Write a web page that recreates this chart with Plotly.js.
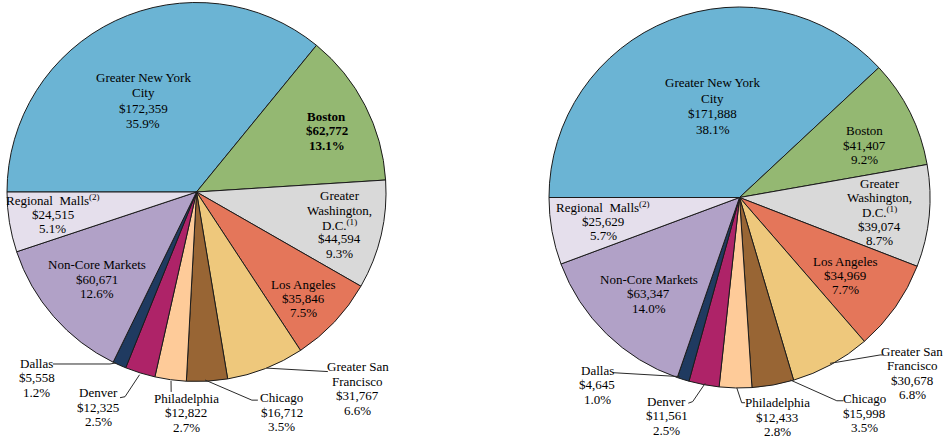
<!DOCTYPE html>
<html><head><meta charset="utf-8">
<script src="https://cdn.plot.ly/plotly-3.0.1.min.js"></script>
<style>html,body{margin:0;padding:0;background:#fff}#chart{width:944px;height:440px}</style>
</head><body><div id="chart"></div>
<script>
// ---- data ----
const categories = ['Greater New York City','Boston','Greater Washington, D.C.','Los Angeles','Greater San Francisco','Chicago','Philadelphia','Denver','Dallas','Non-Core Markets','Regional Malls'];
const nameLines = [['Greater New York','City'],['Boston'],['Greater','Washington,','D.C.<sup>(1)</sup>'],['Los Angeles'],['Greater San','Francisco'],['Chicago'],['Philadelphia'],['Denver'],['Dallas'],['Non-Core Markets'],['Regional  Malls<sup>(2)</sup>']];
const valuesLeft = [172359, 62772, 44594, 35846, 31767, 16712, 12822, 12325, 5558, 60671, 24515];
const pctLeft = ['35.9%','13.1%','9.3%','7.5%','6.6%','3.5%','2.7%','2.5%','1.2%','12.6%','5.1%'];
const valuesRight = [171888, 41407, 39074, 34969, 30678, 15998, 12433, 11561, 4645, 63347, 25629];
const pctRight = ['38.1%','9.2%','8.7%','7.7%','6.8%','3.5%','2.8%','2.5%','1.0%','14.0%','5.7%'];
const colors = ['#6bb4d4','#94b872','#d9d9d9','#e4765a','#eec87c','#986534','#fecb99','#ae2368','#1f3a60','#b1a1c7','#e5dfec'];

// ---- layout / styling ----
const W = 944, H = 440;
const FONT = '"Liberation Serif", "Times New Roman", serif';
const pies = [
  { values: valuesLeft, pct: pctLeft, cx: 196.5, cy: 192, r: 189.5, bold: [1],
    labelPos: [[-4.9,0.559],[2.1,0.760],[-0.3,0.776],[1.7,0.795],[-18.0,1.342],[-18.0,1.246],[-5.2,1.167],[7.3,1.248],[16.6,1.293],[0,0.698],[0.3,0.767]],
    leaders: {4:[-0.3,1.0,[[-30,-17]]], 5:[0.6,0.993,[[-30,-12],[-24,-12]]], 6:[-0.2,1.006,[[-15,-21]]],
              7:[0,1.01,[[27,-10.3],[22,-9.3]]], 8:[1.2,0.997,[[73,-14],[16,-14]]]} },
  { values: valuesRight, pct: pctRight, cx: 739.5, cy: 197.5, r: 190.5, bold: [],
    labelPos: [[5.3,0.500],[3.8,0.714],[0.3,0.741],[1.4,0.689],[-15.8,1.292],[-19.9,1.307],[-10.9,1.169],[7.6,1.208],[20.0,1.236],[-1.1,0.694],[0.4,0.727]],
    leaders: {4:[0.1,0.992,[[-32,-18],[-28.7,-18]]], 5:[-5.4,0.994,[[-27.3,-12.3],[-20.7,-12.3]]], 6:[-0.4,1.0,[[-35.3,-14.3],[-32,-14.3]]],
              7:[-0.3,0.992,[[25.7,-14.3],[21.3,-12.7]]], 8:[1.2,0.991,[[16,-12.3]]]} }
];

function midAngles(vals){
  const s = vals.reduce((a,b)=>a+b,0); let c = 0;
  return vals.map(v => { const m = c + v/2; c += v; return -90 + 360*m/s; });
}
function polar(p, deg, k){
  const a = deg*Math.PI/180;
  return [p.cx + k*p.r*Math.sin(a), p.cy - k*p.r*Math.cos(a)];
}
const px2x = x => x / W, px2y = y => 1 - y / H;

const traces = [], annotations = [], shapes = [];
pies.forEach(p => {
  traces.push({
    type: 'pie', values: p.values, labels: categories, sort: false, direction: 'clockwise', rotation: -90,
    marker: { colors: colors, line: { color: '#1b1b1b', width: 1 } },
    textinfo: 'none', showlegend: false, hoverinfo: 'label+value+percent',
    domain: { x: [px2x(p.cx - p.r), px2x(p.cx + p.r)], y: [px2y(p.cy + p.r), px2y(p.cy - p.r)] }
  });
  const mids = midAngles(p.values);
  categories.forEach((c, i) => {
    const [dθ, k] = p.labelPos[i];
    const [lx, ly] = polar(p, mids[i] + dθ, k);
    const lines = nameLines[i].concat(['$' + p.values[i].toLocaleString('en-US'), p.pct[i]]);
    const lh = i === 0 ? 15.6 : 14.4;
    lines.forEach((t, j) => {
      const y = ly + (j - (lines.length - 1)/2) * lh;
      annotations.push({ xref: 'paper', yref: 'paper', x: px2x(lx), y: px2y(y), xanchor: 'center', yanchor: 'middle',
        showarrow: false, text: p.bold.includes(i) ? '<b>' + t + '</b>' : t,
        font: { family: FONT, size: 13, color: '#000' } });
    });
    const L = p.leaders[i];
    if (L) {
      const [sx, sy] = polar(p, mids[i] + L[0], L[1]);
      let d = 'M' + px2x(sx) + ',' + px2y(sy);
      L[2].forEach(([dx, dy]) => { d += ' L' + px2x(lx + dx) + ',' + px2y(ly + dy); });
      shapes.push({ type: 'path', xref: 'paper', yref: 'paper', path: d, line: { color: '#2a2a2a', width: 1 } });
    }
  });
});

Plotly.newPlot('chart', traces, {
  width: W, height: H, margin: { l: 0, r: 0, t: 0, b: 0 },
  paper_bgcolor: '#fff', plot_bgcolor: '#fff',
  annotations: annotations, shapes: shapes,
  font: { family: FONT }
}, { displayModeBar: false, staticPlot: true });
</script></body></html>
